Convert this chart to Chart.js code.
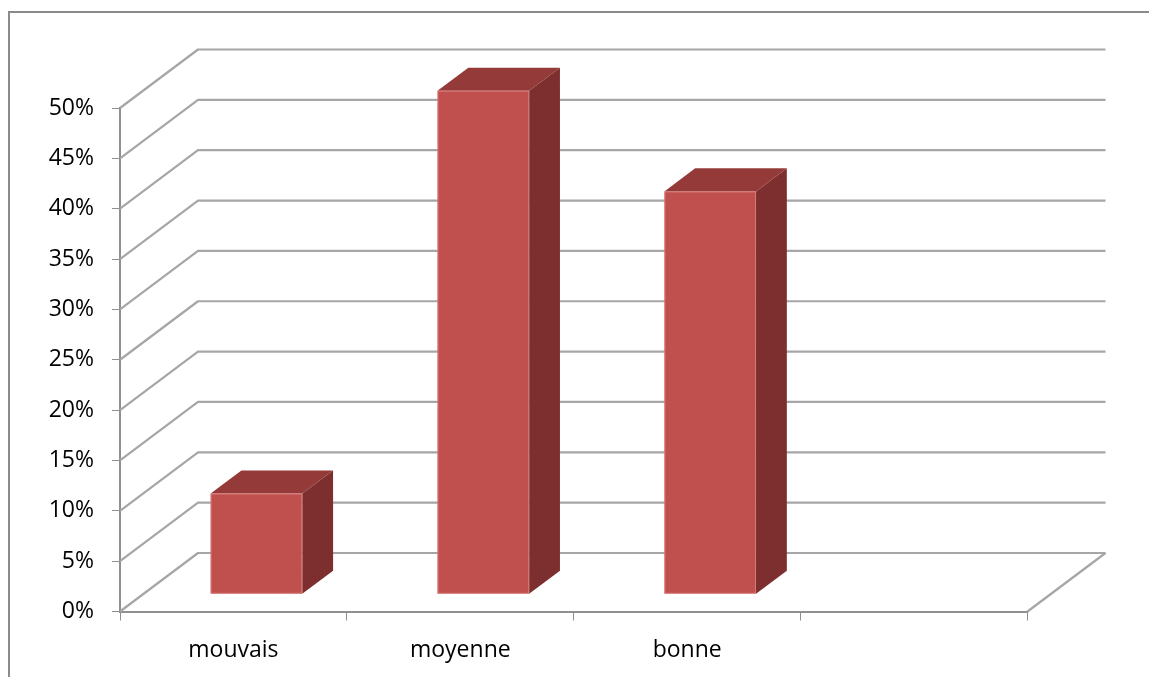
<!DOCTYPE html>
<html>
<head>
<meta charset="utf-8">
<title>Niveau</title>
<script src="https://cdn.jsdelivr.net/npm/chart.js@4/dist/chart.umd.min.js"></script>
<style>
  html, body { margin: 0; padding: 0; background: #fff; }
  canvas { display: block; }
</style>
</head>
<body>
<canvas id="chart" width="1149" height="677"></canvas>
<script>
const categories = ['mouvais', 'moyenne', 'bonne', ''];
const values = [10, 50, 40, null];
const yTicks = { min: 0, max: 50, step: 5 };

// oblique depth of the floor / back wall, and where the bars sit in it
const depth = { dx: 78, dy: -58.5 };
const barFront = 0.295;
const barDepth = 0.395;

const wallColor = '#a6a6a6';
const axisColor = '#8f8f8f';
const faceColor = '#c0504d';
const topColor = '#943a38';
const sideColor = '#7c2f2e';

const walls = {
    id: 'walls',
    beforeDraw(chart) {
        const ctx = chart.ctx;
        ctx.save();
        ctx.fillStyle = '#fff';
        ctx.fillRect(0, 0, chart.width, chart.height);
        // frame round the chart, open on the right and bottom
        ctx.strokeStyle = '#8a8a8a';
        ctx.lineWidth = 2;
        ctx.beginPath();
        ctx.moveTo(9, chart.height);
        ctx.lineTo(9, 12);
        ctx.lineTo(chart.width, 12);
        ctx.stroke();
        ctx.restore();
    },
    beforeDatasetsDraw(chart) {
        const ctx = chart.ctx;
        const { left, right, bottom } = chart.chartArea;
        const y = chart.scales.y;
        ctx.save();
        ctx.strokeStyle = wallColor;
        ctx.lineWidth = 2.2;
        ctx.lineJoin = 'round';
        y.ticks.forEach(t => {
            const py = y.getPixelForValue(t.value);
            ctx.beginPath();
            ctx.moveTo(left, py);
            ctx.lineTo(left + depth.dx, py + depth.dy);
            ctx.lineTo(right + depth.dx, py + depth.dy);
            ctx.stroke();
        });
        // right edge of the floor
        ctx.beginPath();
        ctx.moveTo(right, bottom);
        ctx.lineTo(right + depth.dx, bottom + depth.dy);
        ctx.stroke();
        ctx.restore();
    },
    afterDatasetsDraw(chart) {
        const ctx = chart.ctx;
        const meta = chart.getDatasetMeta(0);
        const fx = barFront * depth.dx, fy = barFront * depth.dy;
        const bx = barDepth * depth.dx, by = barDepth * depth.dy;
        ctx.save();
        meta.data.forEach((bar, i) => {
            if (values[i] == null) return;
            const { x, y, base, width } = bar.getProps(['x', 'y', 'base', 'width'], true);
            const l = x - width / 2 + fx, r = x + width / 2 + fx;
            const t = y + fy, b = base + fy;
            // side
            ctx.fillStyle = sideColor;
            ctx.beginPath();
            ctx.moveTo(r, t);
            ctx.lineTo(r + bx, t + by);
            ctx.lineTo(r + bx, b + by);
            ctx.lineTo(r, b);
            ctx.closePath();
            ctx.fill();
            // top
            ctx.fillStyle = topColor;
            ctx.beginPath();
            ctx.moveTo(l, t);
            ctx.lineTo(l + bx, t + by);
            ctx.lineTo(r + bx, t + by);
            ctx.lineTo(r, t);
            ctx.closePath();
            ctx.fill();
            // front
            ctx.fillStyle = faceColor;
            ctx.fillRect(l, t, r - l, b - t);
            ctx.strokeStyle = 'rgba(230,150,148,0.6)';
            ctx.lineWidth = 1;
            ctx.strokeRect(l + 0.5, t + 0.5, r - l - 1, b - t - 1);
        });
        ctx.restore();
    }
};

new Chart(document.getElementById('chart'), {
    type: 'bar',
    data: {
        labels: categories,
        datasets: [{
            data: values,
            backgroundColor: 'rgba(0,0,0,0)',
            borderWidth: 0,
            categoryPercentage: 1,
            barPercentage: 0.404
        }]
    },
    options: {
        responsive: false,
        animation: false,
        devicePixelRatio: 1,
        layout: { padding: { left: 0, top: 108, right: 121.5, bottom: 0 } },
        plugins: { legend: { display: false }, tooltip: { enabled: false } },
        scales: {
            x: {
                afterFit(scale) { scale.height = 65.5; },
                grid: { drawOnChartArea: false, drawTicks: true, tickLength: 9, color: axisColor, offset: true },
                border: { color: axisColor, width: 2 },
                ticks: {
                    color: '#000',
                    padding: 16,
                    font: { family: 'Open Sans', size: 23 }
                }
            },
            y: {
                min: yTicks.min,
                max: yTicks.max,
                afterFit(scale) { scale.width = 120; },
                grid: { drawOnChartArea: false, drawTicks: true, tickLength: 8, color: axisColor },
                border: { color: axisColor, width: 2 },
                ticks: {
                    stepSize: yTicks.step,
                    color: '#000',
                    padding: 18,
                    font: { family: 'Open Sans', size: 23 },
                    callback: v => v + '%'
                }
            }
        }
    },
    plugins: [walls]
});
</script>
</body>
</html>
